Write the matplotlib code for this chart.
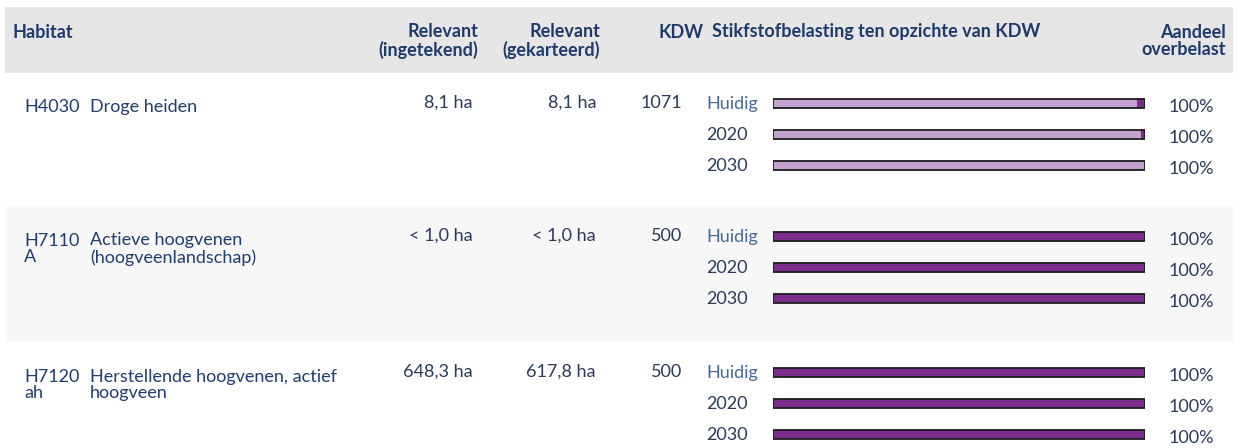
import matplotlib.pyplot as plt
from matplotlib.patches import Rectangle

plt.rcParams['font.family'] = ['Lato', 'DejaVu Sans']

# table data
codes = ['H4030', 'H7110\nA', 'H7120\nah']
names = ['Droge heiden', 'Actieve hoogvenen\n(hoogveenlandschap)',
         'Herstellende hoogvenen, actief\nhoogveen']
rel_ingetekend = ['8,1 ha', '< 1,0 ha', '648,3 ha']
rel_gekarteerd = ['8,1 ha', '< 1,0 ha', '617,8 ha']
kdw = ['1071', '500', '500']
periods = ['Huidig', '2020', '2030']
# share of area (%) per load class: light overload / heavy overload
licht = [[97.8, 98.8, 100.0], [0, 0, 0], [0, 0, 0]]
sterk = [[2.2, 1.2, 0.0], [100, 100, 100], [100, 100, 100]]
aandeel = [['100%', '100%', '100%'], ['100%', '100%', '100%'], ['100%', '100%', '100%']]

c_head = '#1d3a6b'
c_text = '#1f3d6e'
c_num = '#2b3a58'
c_huidig = '#46699a'
c_light = '#c3a2cf'
c_dark = '#7b2c8c'

W, H = 1240, 448
fig = plt.figure(figsize=(W / 100, H / 100), dpi=100)
ax = fig.add_axes([0, 0, 1, 1])
ax.set_xlim(0, W)
ax.set_ylim(H, 0)
ax.axis('off')

# header band
ax.add_patch(Rectangle((5, 7), 1228, 66, color='#e6e6e6', lw=0))
fs = 13
hk = dict(color=c_head, fontsize=fs, fontweight='bold', va='center', linespacing=1.05)
ax.text(12, 32, 'Habitat', ha='left', **hk)
ax.text(478, 41, 'Relevant\n(ingetekend)', ha='right', **hk)
ax.text(600, 41, 'Relevant\n(gekarteerd)', ha='right', **hk)
ax.text(704, 32, 'KDW', ha='right', **hk)
ax.text(712, 32, 'Stikfstofbelasting ten opzichte van KDW', ha='left', **hk)
ax.text(1226, 41, 'Aandeel\noverbelast', ha='right', **hk)

row_top = [73, 206, 342]
row_h = [133, 136, 106]
ax.add_patch(Rectangle((6, row_top[1]), 1227, row_h[1], color='#f7f7f7', lw=0))

bax = fig.add_axes([773 / W, 0, 372 / W, 1])
bax.set_xlim(0, 100)
bax.set_ylim(H, 0)
bax.axis('off')

for r in range(len(codes)):
    y0 = row_top[r] + 34
    tk = dict(fontsize=fs, va='center', linespacing=1.05)
    ax.text(24, y0 + 9 * codes[r].count('\n'), codes[r], ha='left', color=c_text, **tk)
    ax.text(90, y0 + 9 * names[r].count('\n'), names[r], ha='left', color=c_text, **tk)
    ax.text(473, y0 - 4, rel_ingetekend[r], ha='right', color=c_num, **tk)
    ax.text(596, y0 - 4, rel_gekarteerd[r], ha='right', color=c_num, **tk)
    ax.text(682, y0 - 4, kdw[r], ha='right', color=c_num, **tk)
    for i, p in enumerate(periods):
        yb = y0 - 3 + 31 * i
        ax.text(706, yb, p, ha='left', color=c_huidig if i == 0 else c_num, **tk)
        bax.barh(yb, licht[r][i], height=9, color=c_light, lw=0)
        bax.barh(yb, sterk[r][i], left=licht[r][i], height=9, color=c_dark, lw=0)
        bax.barh(yb, 100, height=9, fill=False, edgecolor='#1c1c1c', lw=1.3)
        ax.text(1214, yb + 3, aandeel[r][i], ha='right', color=c_num, **tk)

fig.savefig('out.png', dpi=100)
